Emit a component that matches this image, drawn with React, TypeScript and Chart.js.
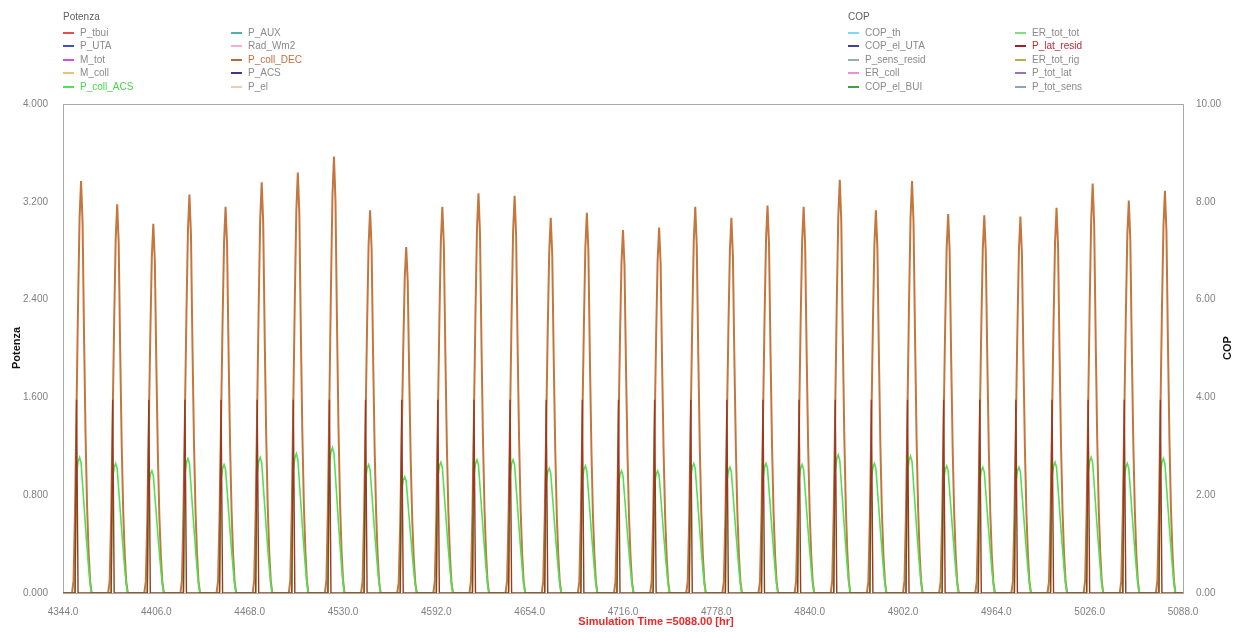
import React, { useEffect, useRef } from 'react';
import { Chart, registerables } from 'chart.js';

Chart.register(...registerables);

// ---- data ----
const xTicks = [4344, 4406, 4468, 4530, 4592, 4654, 4716, 4778, 4840, 4902, 4964, 5026, 5088];
const yLeftTicks = [0, 0.8, 1.6, 2.4, 3.2, 4.0];
const yRightTicks = [0, 2, 4, 6, 8, 10];

const dayStarts = [
  4344, 4368, 4392, 4416, 4440, 4464, 4488, 4512, 4536, 4560, 4584, 4608, 4632, 4656, 4680, 4704,
  4728, 4752, 4776, 4800, 4824, 4848, 4872, 4896, 4920, 4944, 4968, 4992, 5016, 5040, 5064,
];

// daily maxima
const decPeaks = [
  3.37, 3.18, 3.02, 3.26, 3.16, 3.36, 3.44, 3.57, 3.13, 2.83, 3.16, 3.27, 3.25, 3.07, 3.11, 2.97,
  2.99, 3.16, 3.07, 3.17, 3.16, 3.38, 3.13, 3.37, 3.1, 3.09, 3.08, 3.15, 3.35, 3.21, 3.29,
];
const acsPeaks = [
  1.11, 1.06, 1.0, 1.1, 1.05, 1.11, 1.14, 1.19, 1.05, 0.95, 1.07, 1.09, 1.09, 1.02, 1.04, 1.0,
  1.0, 1.06, 1.03, 1.06, 1.05, 1.13, 1.06, 1.12, 1.04, 1.03, 1.03, 1.07, 1.11, 1.06, 1.1,
];
const latPeaks = [
  3.95, 3.95, 3.95, 3.95, 3.95, 3.95, 3.95, 3.95, 3.95, 3.95, 3.95, 3.95, 3.95, 3.95, 3.95, 3.95,
  3.95, 3.95, 3.95, 3.95, 3.95, 3.95, 3.95, 3.95, 3.95, 3.95, 3.95, 3.95, 3.95, 3.95, 3.95,
];

// hourly shape of a day (fraction of the daily maximum)
const profileHours = [6, 7, 8, 9, 10, 11, 12, 13, 14, 15, 16, 17, 18, 19];
const decProfile = [0, 0.03, 0.2, 0.45, 0.7, 0.91, 1, 0.9, 0.62, 0.38, 0.21, 0.1, 0.03, 0];
const acsProfile = [0, 0, 0, 0.88, 0.97, 1, 0.96, 0.8, 0.64, 0.48, 0.33, 0.19, 0.07, 0];
const latHours = [8, 9, 10];
const latProfile = [0, 1, 0];

const legendPotenza1 = ['P_tbui', 'P_UTA', 'M_tot', 'M_coll', 'P_coll_ACS'];
const legendPotenza1Colors = ['#e05050', '#4050c8', '#d050e0', '#f0c070', '#50e050'];
const legendPotenza2 = ['P_AUX', 'Rad_Wm2', 'P_coll_DEC', 'P_ACS', 'P_el'];
const legendPotenza2Colors = ['#50b0b0', '#f4b0d0', '#b8683a', '#3a3a90', '#f5c8b0'];
const legendCop1 = ['COP_th', 'COP_el_UTA', 'P_sens_resid', 'ER_coll', 'COP_el_BUI'];
const legendCop1Colors = ['#80d8f8', '#4040a0', '#90b0a8', '#e890e0', '#40a040'];
const legendCop2 = ['ER_tot_tot', 'P_lat_resid', 'ER_tot_rig', 'P_tot_lat', 'P_tot_sens'];
const legendCop2Colors = ['#80e080', '#a02030', '#b0b050', '#a070c0', '#80a8c8'];
const activeText: Record<string, string> = {
  P_coll_ACS: '#48d848',
  P_coll_DEC: '#c07040',
  P_lat_resid: '#c02838',
};

function buildSeries(peaks: number[], hours: number[], profile: number[]) {
  const pts: { x: number; y: number }[] = [{ x: xTicks[0], y: 0 }];
  dayStarts.forEach((d, i) => {
    hours.forEach((h, j) => pts.push({ x: d + h, y: peaks[i] * profile[j] }));
  });
  pts.push({ x: xTicks[xTicks.length - 1], y: 0 });
  return pts;
}

const FONT = '"Liberation Sans", Arial, sans-serif';

const overlay = {
  id: 'overlay',
  beforeDatasetsDraw(chart: any) {
    const { ctx, chartArea: a } = chart;
    ctx.save();
    ctx.strokeStyle = '#a8a8a8';
    ctx.lineWidth = 1;
    ctx.strokeRect(Math.round(a.left) + 0.5, Math.round(a.top) + 0.5, a.right - a.left, a.bottom - a.top);
    ctx.restore();
  },
  afterDraw(chart: any) {
    const { ctx } = chart;
    ctx.save();
    const drawGroup = (title: string, x1: number, x2: number, n1: string[], c1: string[], n2: string[], c2: string[]) => {
      ctx.font = `10px ${FONT}`;
      ctx.textBaseline = 'middle';
      ctx.textAlign = 'left';
      ctx.fillStyle = '#606060';
      ctx.fillText(title, x1, 17);
      const rows = [33, 46, 60, 73, 87];
      const col = (x: number, names: string[], colors: string[]) => {
        names.forEach((nm, i) => {
          const y = rows[i];
          ctx.strokeStyle = colors[i];
          ctx.lineWidth = 2;
          ctx.beginPath();
          ctx.moveTo(x, y);
          ctx.lineTo(x + 11, y);
          ctx.stroke();
          ctx.fillStyle = activeText[nm] || '#8a8a8a';
          ctx.fillText(nm, x + 17, y);
        });
      };
      col(x1, n1, c1);
      col(x2, n2, c2);
    };
    drawGroup('Potenza', 63, 231, legendPotenza1, legendPotenza1Colors, legendPotenza2, legendPotenza2Colors);
    drawGroup('COP', 848, 1015, legendCop1, legendCop1Colors, legendCop2, legendCop2Colors);

    ctx.font = `bold 11px ${FONT}`;
    ctx.fillStyle = '#111';
    ctx.textAlign = 'center';
    ctx.textBaseline = 'middle';
    ctx.save();
    ctx.translate(17, 348);
    ctx.rotate(-Math.PI / 2);
    ctx.fillText('Potenza', 0, 0);
    ctx.restore();
    ctx.save();
    ctx.translate(1228, 348);
    ctx.rotate(-Math.PI / 2);
    ctx.fillText('COP', 0, 0);
    ctx.restore();
    ctx.fillStyle = '#f02828';
    ctx.fillText('Simulation Time =5088.00 [hr]', 656, 622);
    ctx.restore();
  },
};

export default function App() {
  const ref = useRef<HTMLCanvasElement | null>(null);
  useEffect(() => {
    document.body.style.margin = '0';
    if (!ref.current) return;
    const chart = new Chart(ref.current, {
      type: 'line',
      data: {
        datasets: [
          {
            label: 'P_lat_resid',
            data: buildSeries(latPeaks, latHours, latProfile),
            borderColor: '#963a22',
            borderWidth: 1.4,
            yAxisID: 'y1',
          },
          {
            label: 'P_coll_ACS',
            data: buildSeries(acsPeaks, profileHours, acsProfile),
            borderColor: '#52e052',
            borderWidth: 1.6,
            yAxisID: 'y',
          },
          {
            label: 'P_coll_DEC',
            data: buildSeries(decPeaks, profileHours, decProfile),
            borderColor: '#c4763f',
            borderWidth: 2,
            yAxisID: 'y',
          },
        ],
      },
      options: {
        animation: false,
        responsive: false,
        parsing: false as any,
        normalized: true,
        events: [],
        elements: { point: { radius: 0 }, line: { tension: 0 } },
        layout: { padding: { top: 104, left: 0, right: 0, bottom: 0 } },
        plugins: { legend: { display: false }, tooltip: { enabled: false }, title: { display: false } },
        scales: {
          x: {
            type: 'linear',
            min: xTicks[0],
            max: xTicks[xTicks.length - 1],
            grid: { display: false },
            border: { display: false },
            afterFit: (s: any) => {
              s.height = 39;
            },
            afterBuildTicks: (s: any) => {
              s.ticks = xTicks.map((v) => ({ value: v }));
            },
            ticks: {
              autoSkip: false,
              maxRotation: 0,
              padding: 5,
              color: '#808080',
              font: { family: FONT, size: 10 },
              callback: (v: any) => Number(v).toFixed(1),
            },
          },
          y: {
            type: 'linear',
            position: 'left',
            min: 0,
            max: 4,
            grid: { display: false },
            border: { display: false },
            afterFit: (s: any) => {
              s.width = 63;
            },
            afterBuildTicks: (s: any) => {
              s.ticks = yLeftTicks.map((v) => ({ value: v }));
            },
            ticks: {
              padding: 7,
              color: '#808080',
              font: { family: FONT, size: 10 },
              callback: (v: any) => Number(v).toFixed(3),
            },
          },
          y1: {
            type: 'linear',
            position: 'right',
            min: 0,
            max: 10,
            grid: { display: false },
            border: { display: false },
            afterFit: (s: any) => {
              s.width = 54;
            },
            afterBuildTicks: (s: any) => {
              s.ticks = yRightTicks.map((v) => ({ value: v }));
            },
            ticks: {
              padding: 5,
              color: '#808080',
              font: { family: FONT, size: 10 },
              callback: (v: any) => Number(v).toFixed(2),
            },
          },
        },
      } as any,
      plugins: [overlay],
    });
    return () => chart.destroy();
  }, []);
  return (
    <div style={{ width: 1237, height: 632, background: '#fff' }}>
      <canvas ref={ref} width={1237} height={632} style={{ display: 'block' }} />
    </div>
  );
}
